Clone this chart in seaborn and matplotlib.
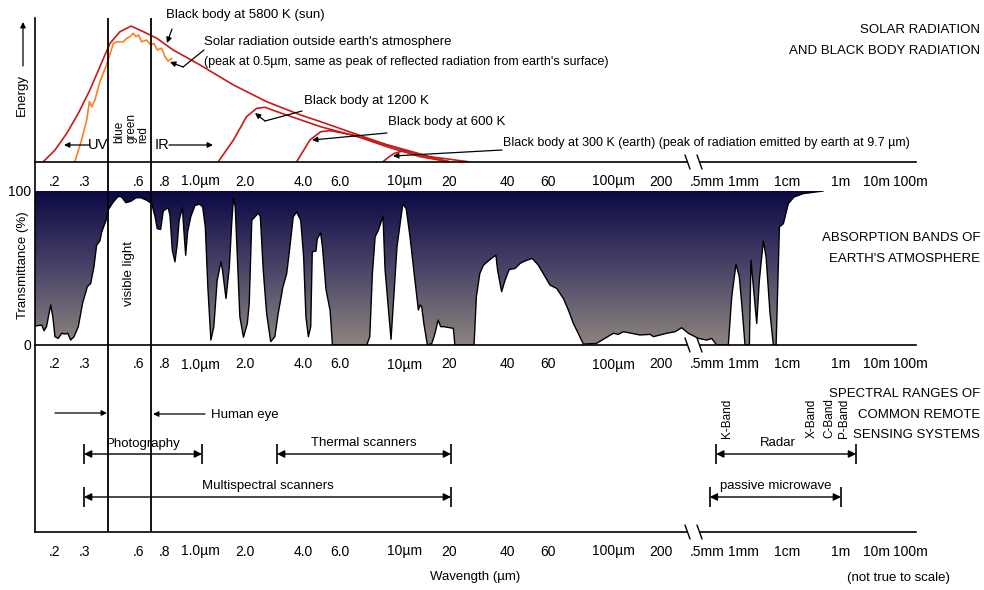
import numpy as np
import matplotlib
matplotlib.use("Agg")
import matplotlib.pyplot as plt
from matplotlib.colors import LinearSegmentedColormap
from matplotlib.lines import Line2D
from matplotlib.ticker import NullLocator
from matplotlib.transforms import Affine2D
import seaborn as sns

# wavelength axis (µm) -> column of the drawing, the axis is not true to scale
SCALE_WL = [0.15, 0.2, 0.3, 0.4, 0.5, 0.6, 0.7, 0.8, 0.9, 1,
            2, 3, 4, 5, 6, 7, 8, 9,
            10, 20, 30, 40, 50, 60, 70, 80, 90, 100,
            200, 500, 1e3, 1e4, 1e6, 1e7, 1e8]
SCALE_PX = [35, 55, 84, 108, 120, 139, 151, 165, 180, 192,
            245, 277, 303, 322, 342, 358, 371, 383,
            397, 449, 482, 507, 531, 548, 565, 579, 592, 605,
            661, 712, 734, 787, 841, 876, 916]

TICK_WL = [0.2, 0.3, 0.5, 0.6, 0.8, 0.9, 1, 2, 3, 4, 5, 6, 7, 8, 9, 10,
           20, 30, 40, 50, 60, 70, 80, 90, 100, 200, 500, 1e3, 1e4, 1e6, 1e7, 1e8]
LABEL_WL = [0.2, 0.3, 0.6, 0.8, 1, 2, 4, 6, 10, 20, 40, 60, 100, 200,
            500, 1e3, 1e4, 1e6, 1e7, 1e8]
LABEL_TXT = [".2", ".3", ".6", ".8", "1.0µm", "2.0", "4.0", "6.0", "10µm", "20",
             "40", "60", "100µm", "200", ".5mm", "1mm", "1cm", "1m", "10m", "100m"]
LABEL_SHIFT = [0, 0, 0, 0, 8, 0, 0, -2, 8, 0, 0, 0, 8, 0, -5, 9, 0, 0, 0, -6]

# black body / solar curves (arbitrary energy units)
BB5800_WL = [0.169, 0.2, 0.236, 0.277, 0.322, 0.363, 0.415, 0.5, 0.556, 0.634, 0.74,
             0.853, 1.11, 1.72, 2.63, 3.9, 4.92, 7.39, 9.27, 15.5, 25.3]
BB5800_E = [0.2, 8.3, 20, 33.8, 50, 66.2, 82.4, 90.5, 94.4, 90.5, 85.9,
            77.8, 67.4, 53.5, 41.9, 32.6, 28, 17.6, 12, 3.7, 0.2]
BB1200_WL = [1.41, 1.72, 2.04, 2.32, 2.58, 2.99, 4.92, 7.9, 13.6, 19.9]
BB1200_E = [0.2, 15.3, 31.5, 37.3, 38, 35, 24.5, 15.3, 4.9, 0.2]
BB600_WL = [3.73, 4.34, 4.92, 5.38, 6.68, 9.27, 13.6, 20]
BB600_E = [0.2, 15.3, 21, 21.8, 18.75, 10.6, 3.7, 0.2]
BB300_WL = [9.0, 9.4, 9.8, 10.7, 12, 14, 17, 20]
BB300_E = [0.2, 3.5, 6, 7.6, 7, 4.5, 2, 0.2]
SOLAR_WL = [0.264, 0.29, 0.31, 0.32, 0.329, 0.342, 0.363, 0.393, 0.442, 0.47,
            0.516, 0.533, 0.551, 0.568, 0.583, 0.597, 0.621, 0.662, 0.697, 0.72,
            0.743, 0.774, 0.8, 0.82, 0.843]
SOLAR_E = [0.2, 15.3, 29.2, 41.9, 38.4, 43, 55.8, 67.4, 82.4, 83.5,
           83.5, 85.9, 87, 89.4, 87, 88.2, 83.5, 84.7, 81.3, 82.4,
           77.8, 79, 73.1, 70.1, 72]

# atmospheric transmittance (%)
TRANS_WL = [0.15, 0.165, 0.171, 0.177, 0.188, 0.194, 0.2, 0.209, 0.22, 0.23,
            0.239, 0.249, 0.261, 0.277, 0.294, 0.312, 0.325, 0.338, 0.349, 0.363,
            0.371, 0.391, 0.403, 0.442, 0.484, 0.508, 0.529, 0.554, 0.582, 0.612,
            0.662, 0.705, 0.728, 0.743, 0.767, 0.787, 0.82, 0.832, 0.847, 0.865,
            0.881, 0.894, 0.919, 0.931, 0.946, 0.962, 0.989, 1.04, 1.11, 1.15,
            1.19, 1.23, 1.28, 1.33, 1.39, 1.46, 1.49, 1.56, 1.63, 1.68,
            1.72, 1.76, 1.81, 1.87, 1.96, 2.06, 2.11, 2.18, 2.37, 2.43,
            2.52, 2.63, 2.77, 2.92, 3.04, 3.2, 3.34, 3.43, 3.59, 3.73,
            3.9, 4.03, 4.14, 4.26, 4.38, 4.46, 4.66, 4.73, 4.92, 5.02,
            5.19, 5.38, 5.5, 7.66, 7.9, 8.11, 8.33, 8.6, 9.0, 9.14,
            9.56, 9.73, 10.0, 10.8, 11.3, 11.9, 12.7, 13.3, 13.6, 13.9,
            14.3, 15.0, 15.9, 16.6, 17.3, 17.9, 18.7, 21.1, 21.5, 27.2,
            28.0, 29.2, 30.5, 32.9, 35.2, 35.9, 37.6, 39.1, 40.8, 43.1,
            45.2, 47.3, 50.7, 54.1, 57.0, 61.1, 64.9, 69.0, 72.3, 75.8,
            79.4, 83.2, 93.3, 97.6, 110.9, 118, 125.6, 139, 154, 175,
            182, 221, 257, 290, 327, 391, 454, 497, 580, 836,
            931, 1090, 1259, 1397, 1614, 1950, 2090, 2685, 3006, 3580,
            4027, 4786, 5530, 6230, 7190, 8550, 9860, 1.12e4, 1.82e4, 4.0e4,
            2.2e5]
TRANS_PCT = [12.3, 13, 9.3, 11.9, 26, 18, 5.4, 4.3, 7.6, 7.1,
             7.6, 3.2, 5.4, 11.9, 27, 37.8, 40, 50.8, 64.8, 67.6,
             73.4, 81, 88, 92.9, 96.5, 96.1, 92.4, 93.3, 95.5, 95.7,
             94, 91.8, 83.2, 75.6, 75, 87, 89.2, 84.2, 61.6, 54,
             65.9, 81, 89.2, 74.5, 58.3, 73.4, 83.2, 90.7, 91.4, 89.6,
             76.7, 37.8, 3.2, 11.9, 42, 54, 48.6, 30.2, 50.8, 78.8,
             95.7, 89.6, 57.2, 18.4, 5, 14, 27, 81, 85.7, 83.2,
             48.6, 20.5, 2.2, 5.4, 20.5, 37.4, 46.4, 59.4, 83.2, 86.4,
             81, 57.2, 18.4, 5.4, 12, 60.5, 61, 69, 72.8, 63.7,
             35.6, 22.7, 0, 0, 5.4, 46.4, 70.2, 74.5, 83.6, 49,
             3.7, 27, 63.7, 91.4, 88.6, 70.2, 42, 22.7, 26, 24.8,
             14, 0, 1, 7.6, 16.2, 11.9, 11.9, 10.8, 0, 0,
             31.3, 46.4, 51.8, 55.5, 58.3, 48.6, 34.6, 42, 49, 49.7,
             53, 54.6, 56.2, 51.8, 46.4, 38.9, 36.7, 30.2, 22.7, 14,
             7.6, 0.6, 1, 3.2, 7.6, 6.9, 8.6, 7.6, 6.5, 6.9,
             5.4, 7.6, 8.6, 11.2, 7.6, 4.3, 3.2, 4.3, 0, 0,
             31.3, 52.5, 44.3, 27, 0, 0, 55, 14, 42, 67.6,
             57.2, 20.5, 0, 0, 76.7, 78.8, 87.5, 91.8, 96.1, 98.3,
             100]

VISIBLE_WL = [0.4, 0.7]

RANGE_NAME = ["Photography", "Thermal scanners", "Multispectral scanners", "Radar", "passive microwave"]
RANGE_START = [0.3, 3.0, 0.3, 570, 480]
RANGE_END = [1.14, 20.5, 20.5, 2.7e6, 1e6]
RANGE_ROW = [454, 454, 497, 454, 497]
RANGE_TEXT_SHIFT = [0, 0, 0, -8, 0]
BAND_NAME = ["K-Band", "X-Band", "C-Band", "P-Band"]
BAND_PX = [727, 812, 829, 844]

RED = "#c81a1a"
ORANGE = "#ff7f1e"
FS = 9.5

sns.set_theme(style="white", rc={"axes.edgecolor": "black", "xtick.color": "black",
                                 "ytick.color": "black", "text.color": "black"})
plt.rcParams["font.family"] = ["Liberation Sans", "DejaVu Sans"]
plt.rcParams["font.size"] = FS

W, H = 984, 590
fig = plt.figure(figsize=(W / 100, H / 100), dpi=100)
PX = Affine2D().scale(1 / W, -1 / H).translate(0, 1) + fig.transFigure
LOG_WL = np.log10(SCALE_WL)


def fwd(x):
    x = np.clip(np.asarray(x, dtype=float), 1e-6, None)
    return np.interp(np.log10(x), LOG_WL, SCALE_PX)


def inv(p):
    return 10 ** np.interp(p, SCALE_PX, LOG_WL)


def box(top, bottom):
    return [35 / W, 1 - bottom / H, (916 - 35) / W, (bottom - top) / H]


ax_e = fig.add_axes(box(18, 162))
ax_t = fig.add_axes(box(191, 345))
ax_s = fig.add_axes(box(18, 532))
ax_s.set_zorder(5)
ax_s.patch.set_alpha(0)

# gradient for the absorbed part
cmap = LinearSegmentedColormap.from_list("atm", ["#8d847f", "#4a4468", "#0b0944"])
grad = np.linspace(1, 0, 256).reshape(-1, 1)
img = ax_t.imshow(grad, extent=[0, 1, 0, 1], transform=ax_t.transAxes, aspect="auto",
                  cmap=cmap, zorder=1)

for ax in (ax_e, ax_t, ax_s):
    ax.set_xscale("function", functions=(fwd, inv))
    ax.set_xlim(0.15, 1e8)
    for sp in ax.spines.values():
        sp.set_visible(False)
    ax.spines["bottom"].set_visible(True)
    ax.spines["bottom"].set_linewidth(1.2)
    ax.set_xticks(TICK_WL)
    ax.xaxis.set_minor_locator(NullLocator())
    ax.tick_params(axis="x", which="major", direction="inout", length=12, width=1,
                   colors="black", labelbottom=False)
    ax.grid(False)
    for wl, txt, dx in zip(LABEL_WL, LABEL_TXT, LABEL_SHIFT):
        ax.annotate(txt, xy=(wl, 0), xycoords=("data", "axes fraction"),
                    xytext=(dx * 0.72, -19.5 * 0.72), textcoords="offset points",
                    ha="center", va="center", fontsize=FS + 0.5, annotation_clip=False)

ax_e.set_ylim(0, 100)
ax_e.set_yticks([])
ax_t.set_ylim(0, 100)
ax_t.set_yticks([0, 100])
ax_t.set_yticklabels(["0", "100"])
ax_t.tick_params(axis="y", length=0, pad=3, labelsize=FS + 0.5)
ax_s.set_ylim(532, 18)
ax_s.set_yticks([])
ax_s.spines["left"].set_visible(True)
ax_s.spines["left"].set_linewidth(1.2)

# energy panel
for wl, e, col in [(BB5800_WL, BB5800_E, RED), (BB1200_WL, BB1200_E, RED),
                   (BB600_WL, BB600_E, RED), (BB300_WL, BB300_E, RED),
                   (SOLAR_WL, SOLAR_E, ORANGE)]:
    sns.lineplot(x=wl, y=e, ax=ax_e, color=col, lw=1.2, estimator=None, sort=False)

# transmittance panel
poly = ax_t.fill_between(TRANS_WL, TRANS_PCT, 100, facecolor="none", edgecolor="none")
img.set_clip_path(poly.get_paths()[0], transform=ax_t.transData)
sns.lineplot(x=TRANS_WL, y=TRANS_PCT, ax=ax_t, color="black", lw=1.0,
             estimator=None, sort=False, zorder=3)

# visible window
for wl in VISIBLE_WL:
    ax_s.axvline(wl, color="black", lw=1.3)

# spectral ranges
for name, s, e, row, sh in zip(RANGE_NAME, RANGE_START, RANGE_END, RANGE_ROW, RANGE_TEXT_SHIFT):
    ax_s.annotate("", xy=(e, row), xytext=(s, row),
                  arrowprops=dict(arrowstyle="<|-|>", color="black", lw=1,
                                  shrinkA=0, shrinkB=0, mutation_scale=11))
    ax_s.plot([s, e], [row, row], ls="none", marker="|", ms=14, mew=1.2, color="black")
    mid = inv((fwd(s) + fwd(e)) / 2)
    ax_s.annotate(name, xy=(mid, row), xytext=(sh * 0.72, 10.5 * 0.72),
                  textcoords="offset points", ha="center", va="center", fontsize=FS)


def text(x, y, s, **kw):
    kw.setdefault("fontsize", FS)
    fig.text(x, y, s, transform=PX, **kw)


def arrow(x0, y0, x1, y1, ms=8):
    ax_s.annotate("", xy=(x1, y1), xytext=(x0, y0), xycoords=PX, textcoords=PX,
                  annotation_clip=False,
                  arrowprops=dict(arrowstyle="-|>", color="black", lw=0.9,
                                  shrinkA=0, shrinkB=0, mutation_scale=ms))


def seg(xs, ys):
    fig.add_artist(Line2D(xs, ys, transform=PX, color="black", lw=0.9))


for x, name in zip(BAND_PX, BAND_NAME):
    text(x, 438, name, rotation=90, ha="center", va="bottom", fontsize=FS - 1)

# axis breaks
for y in (162, 345, 532):
    fig.add_artist(Line2D([690, 698], [y, y], transform=PX, color="white", lw=3, zorder=10))
    fig.add_artist(Line2D([685, 690], [y - 7, y + 7], transform=PX, color="black", lw=1, zorder=11))
    fig.add_artist(Line2D([697, 702], [y - 7, y + 7], transform=PX, color="black", lw=1, zorder=11))

# labels on the energy panel
text(166, 15, "Black body at 5800 K (sun)", ha="left", va="center")
arrow(172, 29, 167, 43)
text(204, 42, "Solar radiation outside earth's atmosphere", ha="left", va="center")
text(204, 62, "(peak at 0.5µm, same as peak of reflected radiation from earth's surface)",
     ha="left", va="center", fontsize=FS - 0.5)
seg([204, 183], [50, 67])
arrow(183, 67, 170, 62)
text(304, 101, "Black body at 1200 K", ha="left", va="center")
seg([302, 265], [111, 121])
arrow(265, 121, 255, 113)
text(388, 122, "Black body at 600 K", ha="left", va="center")
arrow(387, 133, 312, 140)
text(503, 143, "Black body at 300 K (earth) (peak of radiation emitted by earth at 9.7 µm)",
     ha="left", va="center", fontsize=FS - 0.5)
arrow(502, 150, 393, 156)

text(98, 145, "UV", ha="center", va="center", fontsize=FS + 1)
arrow(90, 145, 64, 145)
text(162, 145, "IR", ha="center", va="center", fontsize=FS + 1)
arrow(169, 145, 213, 145)
for x, name in zip([119, 131, 143], ["blue", "green", "red"]):
    text(x, 143, name, rotation=90, ha="center", va="bottom", fontsize=FS - 1)
text(129, 274, "visible light", rotation=90, ha="center", va="center")

text(22, 95, "Energy", rotation=90, ha="center", va="center")
arrow(23, 66, 23, 22)
text(23, 265, "Transmittance (%)", rotation=90, ha="center", va="center")

arrow(55, 413, 107, 413)
arrow(205, 414, 153, 414)
text(211, 415, "Human eye", ha="left", va="center")

for y, s in [(30, "SOLAR RADIATION"), (51, "AND BLACK BODY RADIATION"),
             (238, "ABSORPTION BANDS OF"), (259, "EARTH'S ATMOSPHERE"),
             (394, "SPECTRAL RANGES OF"), (415, "COMMON REMOTE"), (435, "SENSING SYSTEMS")]:
    text(980, y, s, ha="right", va="center")

text(475, 577, "Wavength (µm)", ha="center", va="center")
text(898, 578, "(not true to scale)", ha="center", va="center")

fig.savefig("out.png", dpi=100, facecolor="white")
